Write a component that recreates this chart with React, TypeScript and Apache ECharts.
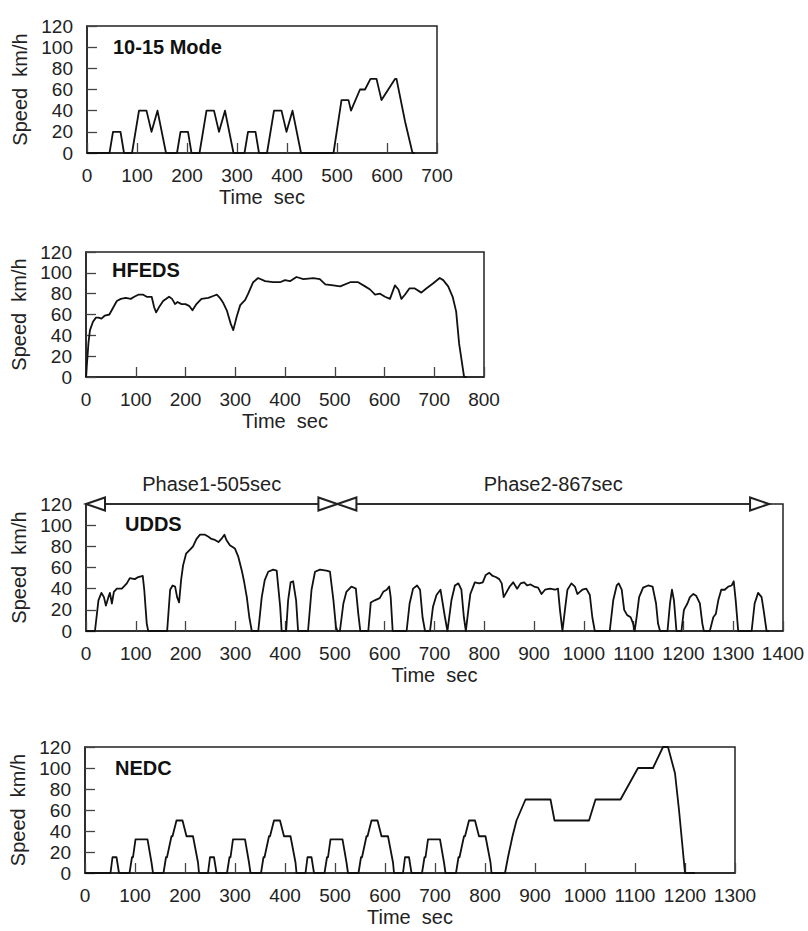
import React, { useEffect, useRef } from "react";
import * as echarts from "echarts";

// ---------- data (time sec, speed km/h) ----------
const mode1015Data: [number, number][] = [
  [0, 0], [45, 0], [52, 20], [67, 20], [74, 0], [90, 0], [104, 40], [119, 40], [129, 20], [141, 40], [158, 0],
  [180, 0], [187, 20], [202, 20], [209, 0], [225, 0], [239, 40], [254, 40], [264, 20], [276, 40], [293, 0],
  [315, 0], [322, 20], [337, 20], [344, 0], [360, 0], [374, 40], [389, 40], [399, 20], [411, 40], [428, 0],
  [493, 0], [509, 50], [523, 50], [528, 40], [546, 60], [556, 60], [567, 70], [579, 70], [589, 50],
  [616, 70], [619, 70], [636, 30], [651, 0], [656, 0],
];

const hfedsData: [number, number][] = [
  [0, 0], [5, 33], [8, 45], [14, 53], [20, 57], [25, 57], [31, 56], [38, 59], [47, 60], [55, 67], [62, 73],
  [70, 75], [80, 76], [90, 75], [97, 77], [105, 79], [115, 79], [122, 77], [132, 77], [137, 67], [141, 62],
  [148, 68], [155, 73], [167, 77], [173, 75], [179, 70], [184, 72], [192, 70], [200, 70], [208, 68],
  [214, 64], [222, 70], [232, 75], [246, 76], [257, 78], [263, 79], [269, 76], [276, 71], [283, 64],
  [291, 51], [296, 45], [303, 58], [310, 69], [320, 74], [326, 80], [336, 91], [346, 95], [360, 92],
  [376, 91], [390, 91], [400, 93], [410, 92], [423, 96], [437, 94], [457, 95], [470, 94], [481, 89],
  [497, 88], [511, 87], [531, 91], [547, 91], [561, 87], [571, 84], [581, 79], [591, 80], [601, 77],
  [611, 75], [621, 88], [628, 84], [634, 75], [641, 79], [650, 85], [661, 85], [674, 81], [684, 85],
  [698, 90], [711, 95], [718, 93], [728, 87], [737, 77], [744, 63], [750, 32], [760, 0], [765, 0],
];

const uddsData: [number, number][] = [
  [0, 0], [18, 0], [25, 29], [31, 36], [36, 32], [40, 24], [45, 32], [48, 36], [52, 26], [56, 37], [62, 40],
  [72, 40], [82, 45], [88, 50], [98, 49], [105, 51], [114, 52], [117, 39], [122, 7], [125, 0], [163, 0],
  [169, 39], [174, 43], [179, 42], [183, 32], [187, 27], [191, 48], [195, 62], [201, 73], [209, 77],
  [215, 80], [222, 87], [229, 91], [239, 91], [246, 89], [252, 87], [259, 86], [266, 84], [272, 87],
  [278, 91], [282, 86], [289, 81], [299, 78], [306, 70], [313, 57], [317, 48], [323, 32], [328, 13],
  [333, 0], [346, 0], [353, 32], [359, 48], [366, 56], [376, 58], [383, 57], [390, 23], [393, 0],
  [402, 0], [406, 29], [411, 46], [416, 47], [422, 29], [426, 0], [446, 0], [453, 39], [460, 56],
  [470, 58], [483, 57], [490, 56], [497, 29], [502, 4], [505, 0], [510, 0], [517, 26], [523, 37],
  [533, 42], [542, 40], [547, 16], [551, 0], [567, 0], [572, 27], [580, 29], [590, 31], [597, 37],
  [604, 39], [609, 42], [612, 32], [616, 0], [644, 0], [650, 26], [657, 40], [665, 43], [671, 39],
  [676, 13], [681, 0], [691, 0], [697, 23], [704, 34], [712, 39], [721, 13], [726, 0], [734, 29],
  [741, 43], [748, 45], [754, 39], [759, 13], [763, 0], [768, 20], [772, 35], [781, 46], [790, 45],
  [797, 46], [803, 53], [810, 55], [817, 52], [823, 51], [830, 49], [835, 45], [839, 32], [845, 37],
  [851, 42], [858, 46], [866, 40], [873, 45], [880, 46], [886, 43], [893, 44], [900, 42], [908, 41],
  [915, 35], [922, 39], [932, 40], [942, 39], [948, 40], [952, 20], [957, 0], [962, 20], [967, 39],
  [975, 45], [982, 42], [987, 35], [992, 37], [997, 39], [1005, 40], [1012, 34], [1017, 13], [1022, 0],
  [1052, 0], [1059, 29], [1066, 43], [1070, 45], [1076, 39], [1081, 20], [1087, 15], [1094, 13],
  [1099, 7], [1102, 0], [1106, 13], [1111, 32], [1119, 41], [1129, 43], [1138, 42], [1145, 26],
  [1149, 7], [1153, 0], [1168, 0], [1173, 26], [1177, 39], [1181, 29], [1186, 0], [1196, 0],
  [1201, 20], [1208, 26], [1213, 32], [1220, 35], [1226, 33], [1233, 26], [1238, 7], [1241, 0],
  [1253, 0], [1260, 13], [1265, 16], [1270, 29], [1276, 39], [1283, 39], [1290, 42], [1297, 43],
  [1301, 47], [1305, 29], [1310, 0], [1337, 0], [1343, 26], [1350, 36], [1357, 32], [1361, 20],
  [1367, 0], [1372, 0],
];

const nedcData: [number, number][] = [
  [0, 0], [51, 0], [55, 15], [63, 15], [68, 0], [89, 0], [94, 15], [96, 15], [101, 32], [125, 32], [133, 10], [136, 0],
  [157, 0], [162, 15], [164, 15], [173, 35], [175, 35], [183, 50], [195, 50], [203, 35], [216, 35], [226, 10], [228, 0],
  [246, 0], [250, 15], [258, 15], [263, 0], [284, 0], [289, 15], [291, 15], [296, 32], [320, 32], [328, 10], [331, 0],
  [352, 0], [357, 15], [359, 15], [368, 35], [370, 35], [378, 50], [390, 50], [398, 35], [411, 35], [421, 10], [423, 0],
  [441, 0], [445, 15], [453, 15], [458, 0], [479, 0], [484, 15], [486, 15], [491, 32], [515, 32], [523, 10], [526, 0],
  [547, 0], [552, 15], [554, 15], [563, 35], [565, 35], [573, 50], [585, 50], [593, 35], [606, 35], [616, 10], [618, 0],
  [636, 0], [640, 15], [648, 15], [653, 0], [674, 0], [679, 15], [681, 15], [686, 32], [710, 32], [718, 10], [721, 0],
  [742, 0], [747, 15], [749, 15], [758, 35], [760, 35], [768, 50], [780, 50], [788, 35], [801, 35], [811, 10], [813, 0],
  [840, 0], [846, 15], [855, 35], [863, 50], [881, 70], [931, 70], [939, 50], [1008, 50], [1021, 70],
  [1071, 70], [1106, 100], [1136, 100], [1156, 120], [1166, 120], [1180, 95], [1188, 60], [1200, 0], [1220, 0],
];

const panelTitles = ["10-15 Mode", "HFEDS", "UDDS", "NEDC"];
const xMaxes = [700, 800, 1400, 1300];
const yMax = 120;
const yInterval = 20;
const xInterval = 100;
const xAxisName = "Time  sec";
const yAxisName = "Speed  km/h";
const phaseBounds = [0, 505, 1372];
const phaseLabels = ["Phase1-505sec", "Phase2-867sec"];

// ---------- layout ----------
const grids = [
  { left: 87, top: 26, width: 350, height: 127 },
  { left: 86, top: 252, width: 398, height: 125 },
  { left: 86, top: 504, width: 697, height: 127 },
  { left: 85, top: 747, width: 650, height: 126 },
];
const titlePos = [
  { left: 113, top: 37 },
  { left: 112, top: 260 },
  { left: 125, top: 514 },
  { left: 115, top: 758 },
];

const FONT = "'Liberation Sans', Arial, Helvetica, sans-serif";
const TEXT = "#222";
const INK = "#111";

const makeTick = () => ({
  show: true,
  inside: true,
  length: 10,
  lineStyle: { color: "#444", width: 1.3 },
});

export default function App() {
  const ref = useRef<HTMLDivElement>(null);
  useEffect(() => {
    if (!ref.current) return;
    const chart = echarts.init(ref.current, undefined, { renderer: "svg" });
    const datasets = [mode1015Data, hfedsData, uddsData, nedcData];
    const n = xMaxes.length;

    const lineSeries = datasets.map((d, i) => {
      const s: any = {
        type: "line",
        xAxisIndex: i,
        yAxisIndex: i,
        data: d,
        showSymbol: false,
        symbol: "none",
        clip: false,
        z: 3,
        lineStyle: { color: INK, width: 1.8, join: "round" },
        emphasis: { disabled: true },
      };
      if (i === 2) {
        s.markLine = {
          silent: true,
          symbol: ["emptyTriangle", "emptyTriangle"],
          symbolSize: [13, 19],
          symbolOffset: [[0, 9.5], [0, 9.5]],
          lineStyle: { color: "#222", width: 1.5, type: "solid" },
          itemStyle: { color: "#222" },
          label: {
            show: true,
            position: "insideMiddleTop",
            distance: 10,
            formatter: "{b}",
            fontSize: 20,
            color: TEXT,
            fontFamily: FONT,
          },
          emphasis: { disabled: true },
          data: phaseLabels.map((lab, k) => [
            { name: lab, coord: [phaseBounds[k], yMax] },
            { coord: [phaseBounds[k + 1], yMax] },
          ]),
        };
      }
      return s;
    });

    // labelled axes (no ticks)
    const mainX = xMaxes.map((mx, i) => ({
      type: "value",
      gridIndex: i,
      position: "bottom",
      min: 0,
      max: mx,
      interval: xInterval,
      name: xAxisName,
      nameLocation: "middle",
      nameGap: 34,
      nameTextStyle: { fontSize: 20, color: TEXT, fontFamily: FONT },
      axisLine: { show: true, onZero: false, lineStyle: { color: "#222", width: 1.5 } },
      axisTick: { show: false },
      axisLabel: {
        fontSize: 19,
        color: TEXT,
        margin: 13,
        fontFamily: FONT,
        formatter: (v: number) => String(v),
      },
      splitLine: { show: false },
    }));
    const mainY = xMaxes.map((_, i) => ({
      type: "value",
      gridIndex: i,
      position: "left",
      min: 0,
      max: yMax,
      interval: yInterval,
      name: yAxisName,
      nameLocation: "middle",
      nameRotate: 90,
      nameGap: 57,
      nameTextStyle: { fontSize: 20, color: TEXT, fontFamily: FONT },
      axisLine: { show: true, onZero: false, lineStyle: { color: "#222", width: 1.5 } },
      axisTick: { show: false },
      axisLabel: {
        fontSize: 19,
        color: TEXT,
        margin: 14,
        fontFamily: FONT,
        formatter: (v: number) => String(v),
      },
      splitLine: { show: false },
    }));
    // tick-only companion axes (same scale, inside ticks)
    const tickX = xMaxes.map((mx, i) => ({
      type: "value",
      gridIndex: i,
      position: "bottom",
      min: 0,
      max: mx,
      interval: xInterval,
      axisLine: { show: false, onZero: false },
      axisTick: makeTick(),
      axisLabel: { show: false },
      splitLine: { show: false },
    }));
    const tickY = xMaxes.map((_, i) => ({
      type: "value",
      gridIndex: i,
      position: "left",
      min: 0,
      max: yMax,
      interval: yInterval,
      axisLine: { show: false, onZero: false },
      axisTick: makeTick(),
      axisLabel: { show: false },
      splitLine: { show: false },
    }));
    // placeholder series keep the companion axes bound to their grids
    const tickHolders = xMaxes.map((mx, i) => ({
      type: "line",
      xAxisIndex: n + i,
      yAxisIndex: n + i,
      data: [[0, 0], [mx, 0]],
      showSymbol: false,
      symbol: "none",
      silent: true,
      lineStyle: { width: 0, opacity: 0 },
      emphasis: { disabled: true },
    }));

    const option: any = {
      animation: false,
      backgroundColor: "#fff",
      textStyle: { fontFamily: FONT },
      title: panelTitles.map((t, i) => ({
        text: t,
        left: titlePos[i].left,
        top: titlePos[i].top,
        padding: 0,
        textStyle: { fontSize: 20, fontWeight: "bold", color: INK, fontFamily: FONT },
      })),
      grid: grids.map((g) => ({
        ...g,
        show: true,
        borderColor: "#222",
        borderWidth: 1.5,
      })),
      xAxis: [...mainX, ...tickX],
      yAxis: [...mainY, ...tickY],
      series: [...lineSeries, ...tickHolders],
    };
    chart.setOption(option);
    return () => chart.dispose();
  }, []);

  return (
    <div
      ref={ref}
      style={{ position: "fixed", left: 0, top: 0, width: 808, height: 931, background: "#fff" }}
    />
  );
}
